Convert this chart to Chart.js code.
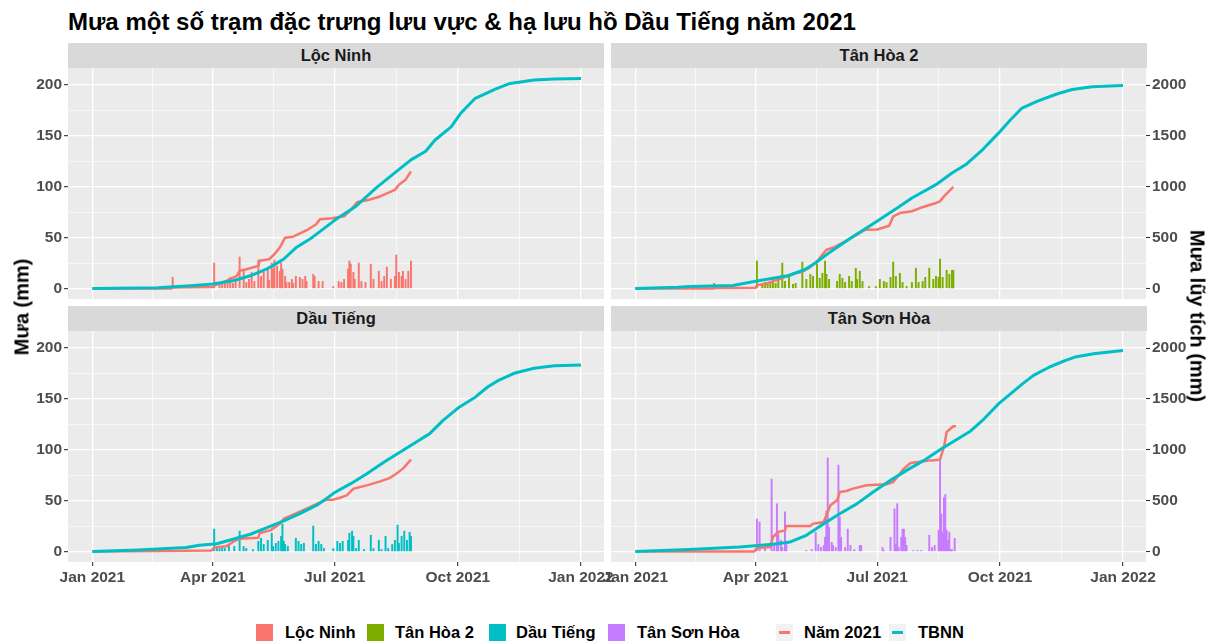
<!DOCTYPE html>
<html lang="vi">
<head>
<meta charset="utf-8">
<title>Mưa một số trạm đặc trưng lưu vực & hạ lưu hồ Dầu Tiếng năm 2021</title>
<script src="https://cdn.jsdelivr.net/npm/chart.js@4.4.1/dist/chart.umd.min.js"></script>
<style>
    body { margin: 0; background: #fff; font-family: 'Liberation Sans', Arial, sans-serif; }
    #wrap { position: relative; width: 1215px; height: 644px; overflow: hidden; }
    #wrap canvas { position: absolute; left: 0; }
    .title { position: absolute; left: 68px; top: 7px; font-size: 24px; font-weight: bold; color: #000; line-height: 30px; white-space: nowrap; }
    .strip { position: absolute; background: #D9D9D9; color: #1A1A1A; font-weight: bold; font-size: 16.5px; text-align: center; }
    .axis-title { position: absolute; font-weight: bold; font-size: 20px; color: #000; white-space: nowrap; }
    .key { position: absolute; width: 17px; height: 17px; top: 624px; }
    .key-line { background: #F2F2F2; }
    .key-line span { position: absolute; left: 3px; right: 3px; top: 7px; height: 3px; }
    .legend-text { position: absolute; top: 622px; font-size: 16.5px; font-weight: bold; color: #000; line-height: 20px; white-space: nowrap; }
</style>
</head>
<body>
<div id="wrap">
    <div class="title">Mưa một số trạm đặc trưng lưu vực &amp; hạ lưu hồ Dầu Tiếng năm 2021</div>
</div>
<script>
// Axis breaks (days since 1 Jan 2021)
const xMajorDays = [0, 90, 181, 273, 365];
const xMajorLabels = ['Jan 2021', 'Apr 2021', 'Jul 2021', 'Oct 2021', 'Jan 2022'];
const xMinorDays = [45, 135.5, 227, 319];
const rainTicks = [0, 50, 100, 150, 200];
const rainMinorTicks = [25, 75, 125, 175];
const cumTicks = [0, 500, 1000, 1500, 2000];

const stations = ['Lộc Ninh', 'Tân Hòa 2', 'Dầu Tiếng', 'Tân Sơn Hòa'];
const stationColors = ['#F8766D', '#7CAE00', '#00BFC4', '#C77CFF'];
const lineLabels = ['Năm 2021', 'TBNN'];
const lineColors = ['#F8766D', '#00BFC4'];

// Daily rainfall [day, mm]
const rainLocNinh = [[60,11],[91,25],[95,6],[97,5],[99,7],[101,6],[103,11],[105,5],[107,8],[110,31],[113,17],[115,6],[117,9],[119,16],[121,7],[124,28],[126,12],[128,16],[131,21],[132,8],[134,25],[135,19],[136,28],[138,22],[140,17],[141,25],[142,19],[144,12],[145,6],[147,6],[149,9],[150,5],[152,12],[155,11],[157,9],[159,12],[160,7],[165,14],[166,12],[169,7],[172,7],[180,2],[184,7],[186,6],[188,9],[191,19],[192,27],[193,24],[195,16],[196,9],[199,25],[201,7],[204,6],[208,24],[210,9],[214,17],[216,7],[218,12],[220,21],[223,9],[226,12],[227,33],[229,16],[231,12],[232,17],[234,9],[236,17],[238,27]];
const rainTanHoa2 = [[59,5],[91,27],[95,5],[97,6],[99,4],[101,7],[103,10],[105,5],[107,9],[110,25],[112,7],[115,12],[118,4],[120,5],[125,26],[128,9],[131,14],[133,12],[136,24],[138,10],[140,15],[142,27],[143,14],[145,9],[151,7],[153,14],[155,10],[157,6],[160,12],[162,7],[165,20],[166,9],[168,17],[170,7],[175,2],[180,2],[183,9],[186,7],[188,6],[191,11],[193,26],[195,12],[198,15],[200,6],[203,2],[207,6],[210,20],[212,6],[215,7],[217,11],[220,20],[223,9],[225,12],[227,11],[228,29],[230,11],[233,18],[235,14],[237,18],[238,18]];
const rainDauTieng = [[91,22],[93,4],[95,3],[97,5],[99,3],[102,7],[106,5],[110,20],[113,5],[115,3],[120,2],[124,10],[126,13],[128,7],[131,11],[134,18],[135,5],[137,8],[139,10],[141,15],[142,27],[143,10],[144,7],[146,5],[152,13],[154,10],[156,7],[158,8],[165,25],[167,7],[169,10],[171,7],[173,3],[180,3],[183,10],[185,8],[187,10],[191,11],[192,18],[194,20],[195,15],[197,3],[199,11],[203,2],[208,16],[210,3],[214,11],[216,2],[219,15],[221,3],[224,7],[226,11],[228,26],[229,8],[231,15],[233,20],[235,11],[237,19],[238,15]];
const rainTanSonHoa = [[91,32],[93,29],[97,4],[102,71],[104,7],[106,47],[107,17],[109,11],[110,4],[112,39],[113,7],[128,1],[132,2],[135,19],[137,7],[139,4],[141,6],[142,14],[143,40],[144,92],[145,24],[147,9],[148,6],[150,4],[152,85],[153,34],[154,14],[157,4],[159,22],[161,6],[164,2],[168,6],[169,6],[185,4],[186,1],[191,14],[194,42],[195,7],[196,47],[197,4],[199,14],[200,22],[201,22],[202,14],[203,6],[208,1],[211,1],[214,1],[220,16],[222,4],[224,6],[227,21],[228,91],[229,37],[230,19],[231,53],[232,56],[233,21],[234,11],[235,19],[236,2],[237,2],[239,13]];

// Cumulative rainfall 2021 [day, mm]
const cum2021LocNinh = [[0,0],[59,0],[60,11],[90,14],[91,30],[100,76],[108,125],[110,174],[115,190],[124,223],[125,272],[132,288],[136,337],[140,403],[144,500],[150,510],[161,580],[167,630],[170,680],[179,690],[188,710],[192,760],[198,850],[206,870],[215,905],[226,970],[229,1020],[234,1070],[238,1150]];
const cum2021TanHoa2 = [[0,0],[58,0],[59,5],[90,8],[91,35],[96,40],[108,92],[119,150],[125,165],[131,210],[137,282],[143,381],[149,407],[157,463],[166,530],[172,578],[181,580],[190,617],[193,709],[198,742],[207,760],[213,791],[225,841],[228,857],[231,906],[238,1000]];
const cum2021DauTieng = [[0,0],[49,6],[89,10],[91,40],[100,51],[105,94],[110,126],[124,136],[125,182],[133,208],[140,274],[143,323],[150,362],[160,421],[168,470],[175,510],[180,510],[185,529],[190,552],[195,617],[205,650],[215,690],[222,722],[227,765],[232,815],[238,903]];
const cum2021TanSonHoa = [[0,0],[89,0],[91,35],[101,44],[103,143],[107,192],[112,208],[113,251],[131,251],[133,274],[141,290],[143,356],[146,455],[151,503],[153,585],[158,595],[163,618],[173,651],[188,661],[193,684],[201,815],[206,871],[216,887],[221,896],[228,903],[231,1028],[233,1175],[238,1231],[240,1231]];

// Long-term average cumulative rainfall (TBNN) [day, mm]
const tbnnLocNinh = [[0,0],[49,7],[76,30],[90,44],[105,76],[118,125],[130,190],[138,250],[143,290],[152,400],[164,500],[182,680],[197,810],[212,990],[227,1150],[238,1265],[249,1350],[256,1460],[268,1590],[275,1720],[286,1870],[301,1960],[312,2016],[330,2050],[345,2060],[365,2065]];
const tbnnTanHoa2 = [[0,0],[32,13],[40,20],[73,30],[90,72],[115,128],[127,187],[135,253],[145,351],[163,512],[178,637],[196,791],[207,890],[225,1021],[237,1136],[248,1225],[260,1366],[272,1530],[281,1662],[289,1770],[301,1842],[316,1915],[327,1957],[342,1984],[365,1997]];
const tbnnDauTieng = [[0,0],[34,16],[70,40],[80,61],[93,77],[105,120],[118,170],[130,232],[143,302],[155,372],[168,458],[173,503],[181,580],[193,667],[205,765],[218,880],[230,978],[242,1077],[252,1159],[262,1289],[274,1419],[286,1517],[295,1615],[303,1680],[315,1752],[330,1801],[345,1827],[365,1834]];
const tbnnTanSonHoa = [[0,0],[40,21],[78,45],[103,71],[116,94],[128,159],[141,274],[153,372],[166,471],[178,585],[191,700],[203,798],[216,896],[228,1001],[251,1185],[260,1291],[272,1454],[281,1552],[290,1650],[298,1732],[310,1814],[322,1879],[329,1912],[343,1944],[365,1977]];

const rainSeries = [rainLocNinh, rainTanHoa2, rainDauTieng, rainTanSonHoa];
const cum2021Series = [cum2021LocNinh, cum2021TanHoa2, cum2021DauTieng, cum2021TanSonHoa];
const tbnnSeries = [tbnnLocNinh, tbnnTanHoa2, tbnnDauTieng, tbnnTanSonHoa];

Chart.defaults.font.family = "'Liberation Sans', Arial, sans-serif";
Chart.defaults.animation = false;

const wrap = document.getElementById('wrap');

// panel layout: plot area position
const panels = [
    { left: true,  bottom: false, x: 68,  top: 68,  height: 231, stripTop: 43 },
    { left: false, bottom: false, x: 611, top: 68,  height: 231, stripTop: 43 },
    { left: true,  bottom: true,  x: 68,  top: 331, height: 231, stripTop: 306 },
    { left: false, bottom: true,  x: 611, top: 331, height: 231, stripTop: 306 }
];

const panelBg = {
    id: 'panelBg',
    beforeDraw(chart) {
        const a = chart.chartArea;
        const ctx = chart.ctx;
        ctx.save();
        ctx.fillStyle = '#EBEBEB';
        ctx.fillRect(a.left, a.top, a.right - a.left, a.bottom - a.top);
        ctx.restore();
    }
};

const toXY = arr => arr.map(([d, v]) => ({ x: d, y: v }));
const transparent = 'rgba(0,0,0,0)';

// keep the plot area exactly where the panel is: no label padding
function noPadding(s) {
    s.paddingTop = 0;
    s.paddingBottom = 0;
    s.paddingLeft = 0;
    s.paddingRight = 0;
}

panels.forEach((p, i) => {
    // strip
    const strip = document.createElement('div');
    strip.className = 'strip';
    strip.style.left = p.x + 'px';
    strip.style.top = p.stripTop + 'px';
    strip.style.width = '536px';
    strip.style.height = '25px';
    strip.style.lineHeight = '25px';
    strip.textContent = stations[i];
    wrap.appendChild(strip);

    const canvas = document.createElement('canvas');
    canvas.width = 1215;
    canvas.height = p.height + (p.bottom ? 40 : 0);
    canvas.style.top = p.top + 'px';
    wrap.appendChild(canvas);

    const tickFont = { size: 15.5, weight: 'bold' };

    new Chart(canvas, {
        type: 'bar',
        data: {
            datasets: [
                {
                    type: 'line',
                    label: lineLabels[1],
                    data: toXY(tbnnSeries[i]),
                    yAxisID: 'y2',
                    borderColor: lineColors[1],
                    borderWidth: 3,
                    pointRadius: 0,
                    fill: false,
                    tension: 0,
                    borderJoinStyle: 'round',
                    order: 0
                },
                {
                    type: 'line',
                    label: lineLabels[0],
                    data: toXY(cum2021Series[i]),
                    yAxisID: 'y2',
                    borderColor: lineColors[0],
                    borderWidth: 2.5,
                    pointRadius: 0,
                    fill: false,
                    tension: 0,
                    borderJoinStyle: 'round',
                    order: 1
                },
                {
                    type: 'bar',
                    label: stations[i],
                    data: toXY(rainSeries[i]),
                    yAxisID: 'y',
                    backgroundColor: stationColors[i],
                    borderWidth: 0,
                    barThickness: 1.3,
                    order: 2
                }
            ]
        },
        options: {
            responsive: false,
            maintainAspectRatio: false,
            layout: { padding: 0, autoPadding: false },
            plugins: { legend: { display: false }, tooltip: { enabled: false } },
            scales: {
                x: {
                    type: 'linear',
                    min: -18.2,
                    max: 382.2,
                    offset: false,
                    border: { display: false },
                    grid: {
                        offset: false,
                        color: '#FFFFFF',
                        lineWidth: c => (c.tick && xMajorDays.includes(c.tick.value)) ? 1.3 : 0.6,
                        drawTicks: p.bottom,
                        tickLength: 4,
                        tickWidth: 1.1,
                        tickColor: c => (c.tick && xMajorDays.includes(c.tick.value)) ? '#333333' : transparent
                    },
                    ticks: {
                        display: p.bottom,
                        autoSkip: false,
                        maxRotation: 0,
                        minRotation: 0,
                        padding: 2,
                        color: '#4D4D4D',
                        font: tickFont,
                        callback: function(value) {
                            const k = xMajorDays.indexOf(value);
                            return k >= 0 ? xMajorLabels[k] : '';
                        }
                    },
                    afterBuildTicks: s => {
                        s.ticks = xMajorDays.concat(xMinorDays).sort((a, b) => a - b).map(v => ({ value: v }));
                    },
                    afterFit: s => { s.height = p.bottom ? 40 : 0; noPadding(s); }
                },
                y: {
                    type: 'linear',
                    position: 'left',
                    min: -10.3,
                    max: 216.8,
                    border: { display: false },
                    grid: {
                        color: '#FFFFFF',
                        lineWidth: c => (c.tick && rainTicks.includes(c.tick.value)) ? 1.3 : 0.6,
                        tickLength: 4,
                        tickWidth: 1.1,
                        tickColor: c => (p.left && c.tick && rainTicks.includes(c.tick.value)) ? '#333333' : transparent
                    },
                    ticks: {
                        display: p.left,
                        autoSkip: false,
                        padding: 2,
                        color: '#4D4D4D',
                        font: tickFont,
                        callback: function(value) {
                            return rainTicks.includes(value) ? String(value) : '';
                        }
                    },
                    afterBuildTicks: s => {
                        s.ticks = rainTicks.concat(rainMinorTicks).sort((a, b) => a - b).map(v => ({ value: v }));
                    },
                    afterFit: s => { s.width = p.left ? 68 : 611; noPadding(s); }
                },
                y2: {
                    type: 'linear',
                    position: 'right',
                    min: -103,
                    max: 2168,
                    border: { display: false },
                    grid: {
                        drawOnChartArea: false,
                        tickLength: 4,
                        tickWidth: 1.1,
                        tickColor: p.left ? transparent : '#333333'
                    },
                    ticks: {
                        display: !p.left,
                        autoSkip: false,
                        padding: 2,
                        color: '#4D4D4D',
                        font: tickFont,
                        callback: function(value) {
                            return String(value);
                        }
                    },
                    afterBuildTicks: s => {
                        s.ticks = cumTicks.map(v => ({ value: v }));
                    },
                    afterFit: s => { s.width = p.left ? 611 : 69; noPadding(s); }
                }
            }
        },
        plugins: [panelBg]
    });
});

// axis titles
function addAxisTitle(text, cx, cy, angle) {
    const d = document.createElement('div');
    d.className = 'axis-title';
    d.textContent = text;
    d.style.left = cx + 'px';
    d.style.top = cy + 'px';
    d.style.transform = 'translate(-50%, -50%) rotate(' + angle + 'deg)';
    wrap.appendChild(d);
}
addAxisTitle('Mưa (mm)', 22, 307, -90);
addAxisTitle('Mưa lũy tích (mm)', 1197, 316, 90);

// legend
const fillKeyX = [256, 367, 489, 608];
const fillTextX = [285, 395, 516, 637];
stations.forEach((s, i) => {
    const k = document.createElement('div');
    k.className = 'key';
    k.style.left = fillKeyX[i] + 'px';
    k.style.background = stationColors[i];
    wrap.appendChild(k);
    const t = document.createElement('div');
    t.className = 'legend-text';
    t.style.left = fillTextX[i] + 'px';
    t.textContent = s;
    wrap.appendChild(t);
});
const lineKeyX = [776, 889];
const lineTextX = [804, 918];
lineLabels.forEach((s, i) => {
    const k = document.createElement('div');
    k.className = 'key key-line';
    k.style.left = lineKeyX[i] + 'px';
    const seg = document.createElement('span');
    seg.style.background = lineColors[i];
    k.appendChild(seg);
    wrap.appendChild(k);
    const t = document.createElement('div');
    t.className = 'legend-text';
    t.style.left = lineTextX[i] + 'px';
    t.textContent = s;
    wrap.appendChild(t);
});
</script>
</body>
</html>
